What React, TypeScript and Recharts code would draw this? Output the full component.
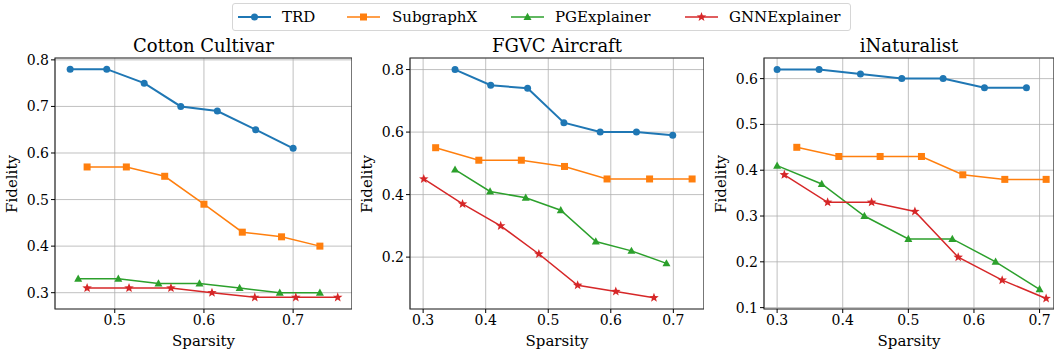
import React from "react";
import { LineChart, Line, XAxis, YAxis, CartesianGrid, ReferenceArea } from "recharts";

const FONT = "'DejaVu Serif', serif";

const SERIES = [
  { key: "TRD", color: "#1f77b4", shape: "circle", width: 2 },
  { key: "SubgraphX", color: "#ff7f0e", shape: "square", width: 1.5 },
  { key: "PGExplainer", color: "#2ca02c", shape: "triangle", width: 1.5 },
  { key: "GNNExplainer", color: "#d62728", shape: "star", width: 1.5 },
];

// legend handle / label left edges
const LEGEND_LINE_X = [238, 347, 511, 685];
const LEGEND_TEXT_X = [282, 392, 555, 729];

// Cotton Cultivar
const cottonX = {
  TRD: [0.45, 0.491, 0.533, 0.574, 0.615, 0.658, 0.7],
  SubgraphX: [0.469, 0.513, 0.556, 0.6, 0.643, 0.687, 0.73],
  PGExplainer: [0.459, 0.504, 0.549, 0.595, 0.64, 0.685, 0.73],
  GNNExplainer: [0.469, 0.516, 0.563, 0.609, 0.657, 0.703, 0.75],
};
const cottonY = {
  TRD: [0.78, 0.78, 0.75, 0.7, 0.69, 0.65, 0.61],
  SubgraphX: [0.57, 0.57, 0.55, 0.49, 0.43, 0.42, 0.4],
  PGExplainer: [0.33, 0.33, 0.32, 0.32, 0.31, 0.3, 0.3],
  GNNExplainer: [0.31, 0.31, 0.31, 0.3, 0.29, 0.29, 0.29],
};

// FGVC Aircraft
const aircraftX = {
  TRD: [0.351, 0.408, 0.467, 0.525, 0.583, 0.641, 0.699],
  SubgraphX: [0.32, 0.389, 0.457, 0.526, 0.594, 0.662, 0.73],
  PGExplainer: [0.351, 0.407, 0.464, 0.52, 0.576, 0.633, 0.689],
  GNNExplainer: [0.301, 0.363, 0.424, 0.485, 0.547, 0.608, 0.669],
};
const aircraftY = {
  TRD: [0.8, 0.75, 0.74, 0.63, 0.6, 0.6, 0.59],
  SubgraphX: [0.55, 0.51, 0.51, 0.49, 0.45, 0.45, 0.45],
  PGExplainer: [0.48, 0.41, 0.39, 0.35, 0.25, 0.22, 0.18],
  GNNExplainer: [0.45, 0.37, 0.3, 0.21, 0.11, 0.09, 0.07],
};

// iNaturalist
const inatX = {
  TRD: [0.3, 0.364, 0.427, 0.49, 0.553, 0.616, 0.68],
  SubgraphX: [0.33, 0.394, 0.457, 0.52, 0.583, 0.647, 0.71],
  PGExplainer: [0.3, 0.368, 0.433, 0.5, 0.567, 0.633, 0.7],
  GNNExplainer: [0.311, 0.377, 0.444, 0.51, 0.576, 0.643, 0.71],
};
const inatY = {
  TRD: [0.62, 0.62, 0.61, 0.6, 0.6, 0.58, 0.58],
  SubgraphX: [0.45, 0.43, 0.43, 0.43, 0.39, 0.38, 0.38],
  PGExplainer: [0.41, 0.37, 0.3, 0.25, 0.25, 0.2, 0.14],
  GNNExplainer: [0.39, 0.33, 0.33, 0.31, 0.21, 0.16, 0.12],
};

const PANELS = [
  {
    title: "Cotton Cultivar", xs: cottonX, ys: cottonY,
    xDomain: [0.433, 0.766], xTicks: [0.5, 0.6, 0.7],
    yDomain: [0.265, 0.804], yTicks: [0.3, 0.4, 0.5, 0.6, 0.7, 0.8],
    box: { left: 55, right: 352, top: 58, bottom: 309 },
  },
  {
    title: "FGVC Aircraft", xs: aircraftX, ys: aircraftY,
    xDomain: [0.279, 0.749], xTicks: [0.3, 0.4, 0.5, 0.6, 0.7],
    yDomain: [0.034, 0.837], yTicks: [0.2, 0.4, 0.6, 0.8],
    box: { left: 410, right: 704, top: 58, bottom: 309 },
  },
  {
    title: "iNaturalist", xs: inatX, ys: inatY,
    xDomain: [0.28, 0.722], xTicks: [0.3, 0.4, 0.5, 0.6, 0.7],
    yDomain: [0.097, 0.645], yTicks: [0.1, 0.2, 0.3, 0.4, 0.5, 0.6],
    box: { left: 764, right: 1054, top: 58, bottom: 309 },
  },
];

function Marker({ shape, color, cx, cy }: { shape: string; color: string; cx: number; cy: number }) {
  if (cx == null || cy == null) return null;
  if (shape === "circle") return <circle cx={cx} cy={cy} r={3.5} fill={color} />;
  if (shape === "square") return <rect x={cx - 3.5} y={cy - 3.5} width={7} height={7} fill={color} />;
  if (shape === "triangle")
    return <polygon points={`${cx},${cy - 4.2} ${cx - 4},${cy + 3} ${cx + 4},${cy + 3}`} fill={color} />;
  const pts: string[] = [];
  for (let i = 0; i < 10; i++) {
    const r = i % 2 === 0 ? 5 : 2.1;
    const a = (Math.PI / 5) * i - Math.PI / 2;
    pts.push(`${cx + r * Math.cos(a)},${cy + r * Math.sin(a)}`);
  }
  return <polygon points={pts.join(" ")} fill={color} />;
}

const CHART_TOP = 30;
const CHART_H = 322;
const XAXIS_H = 30;
const YAXIS_W = 35;

function Panel({ p }: { p: (typeof PANELS)[number] }) {
  const { box } = p;
  const chartLeft = box.left - YAXIS_W;
  const width = box.right - chartLeft;
  const margin = {
    top: box.top - CHART_TOP,
    right: 0,
    left: 0,
    bottom: CHART_TOP + CHART_H - box.bottom - XAXIS_H,
  };
  const tickStyle = { fontFamily: FONT, fontSize: 14, fill: "#000" };
  const cx = (box.left + box.right) / 2;
  return (
    <>
      <div
        style={{
          position: "absolute", left: cx - 120, width: 240, top: 35, lineHeight: "22px",
          textAlign: "center", fontFamily: FONT, fontSize: 18, color: "#000",
        }}
      >
        {p.title}
      </div>
      <div
        style={{
          position: "absolute", left: box.left - 43 - 40, top: (box.top + box.bottom) / 2 - 10,
          width: 80, lineHeight: "20px", textAlign: "center", transform: "rotate(-90deg)",
          fontFamily: FONT, fontSize: 15, color: "#000",
        }}
      >
        Fidelity
      </div>
      <div
        style={{
          position: "absolute", left: cx - 50, width: 100, top: 331, lineHeight: "20px",
          textAlign: "center", fontFamily: FONT, fontSize: 15, color: "#000",
        }}
      >
        Sparsity
      </div>
      <div style={{ position: "absolute", left: chartLeft, top: CHART_TOP }}>
        <LineChart width={width} height={CHART_H} margin={margin}>
          <CartesianGrid stroke="#b0b0b0" strokeWidth={0.8} />
          <XAxis
            type="number" dataKey="x" domain={p.xDomain} ticks={p.xTicks} allowDataOverflow
            height={XAXIS_H} tick={tickStyle} tickFormatter={(v: number) => v.toFixed(1)}
            axisLine={false} tickLine={{ stroke: "#000" }} tickSize={4}
          />
          <YAxis
            type="number" dataKey="y" domain={p.yDomain} ticks={p.yTicks} allowDataOverflow
            width={YAXIS_W} tick={tickStyle} tickFormatter={(v: number) => v.toFixed(1)}
            axisLine={false} tickLine={{ stroke: "#000" }} tickSize={4}
          />
          {SERIES.map((s) => {
            const xs = p.xs[s.key as keyof typeof p.xs];
            const ys = p.ys[s.key as keyof typeof p.ys];
            const data = xs.map((x, i) => ({ x, y: ys[i] }));
            return (
              <Line
                key={s.key} data={data} dataKey="y" type="linear" stroke={s.color}
                strokeWidth={s.width} isAnimationActive={false}
                dot={(d: any) => <Marker key={d.index} shape={s.shape} color={s.color} cx={d.cx} cy={d.cy} />}
                activeDot={false}
              />
            );
          })}
          <ReferenceArea
            x1={p.xDomain[0]} x2={p.xDomain[1]} y1={p.yDomain[0]} y2={p.yDomain[1]}
            fill="none" stroke="#333" strokeWidth={1.2} ifOverflow="visible"
          />
        </LineChart>
      </div>
    </>
  );
}

function Legend() {
  return (
    <div
      style={{
        position: "absolute", left: 232, top: 3, width: 619, height: 28, boxSizing: "border-box",
        border: "1px solid #d6d6d6", borderRadius: 3, fontFamily: FONT, fontSize: 15, color: "#000",
      }}
    >
      {SERIES.map((s, i) => (
        <React.Fragment key={s.key}>
          <svg
            width={33} height={12}
            style={{ position: "absolute", left: LEGEND_LINE_X[i] - 233, top: 7 }}
          >
            <line x1={0} y1={6} x2={33} y2={6} stroke={s.color} strokeWidth={s.width} />
            <Marker shape={s.shape} color={s.color} cx={16.5} cy={6} />
          </svg>
          <span
            style={{
              position: "absolute", left: LEGEND_TEXT_X[i] - 233, top: 3, lineHeight: "20px",
              whiteSpace: "nowrap",
            }}
          >
            {s.key}
          </span>
        </React.Fragment>
      ))}
    </div>
  );
}

export default function App() {
  return (
    <div style={{ position: "absolute", left: 0, top: 0, width: 1055, height: 352, background: "#fff" }}>
      <Legend />
      {PANELS.map((p) => (
        <Panel key={p.title} p={p} />
      ))}
    </div>
  );
}
